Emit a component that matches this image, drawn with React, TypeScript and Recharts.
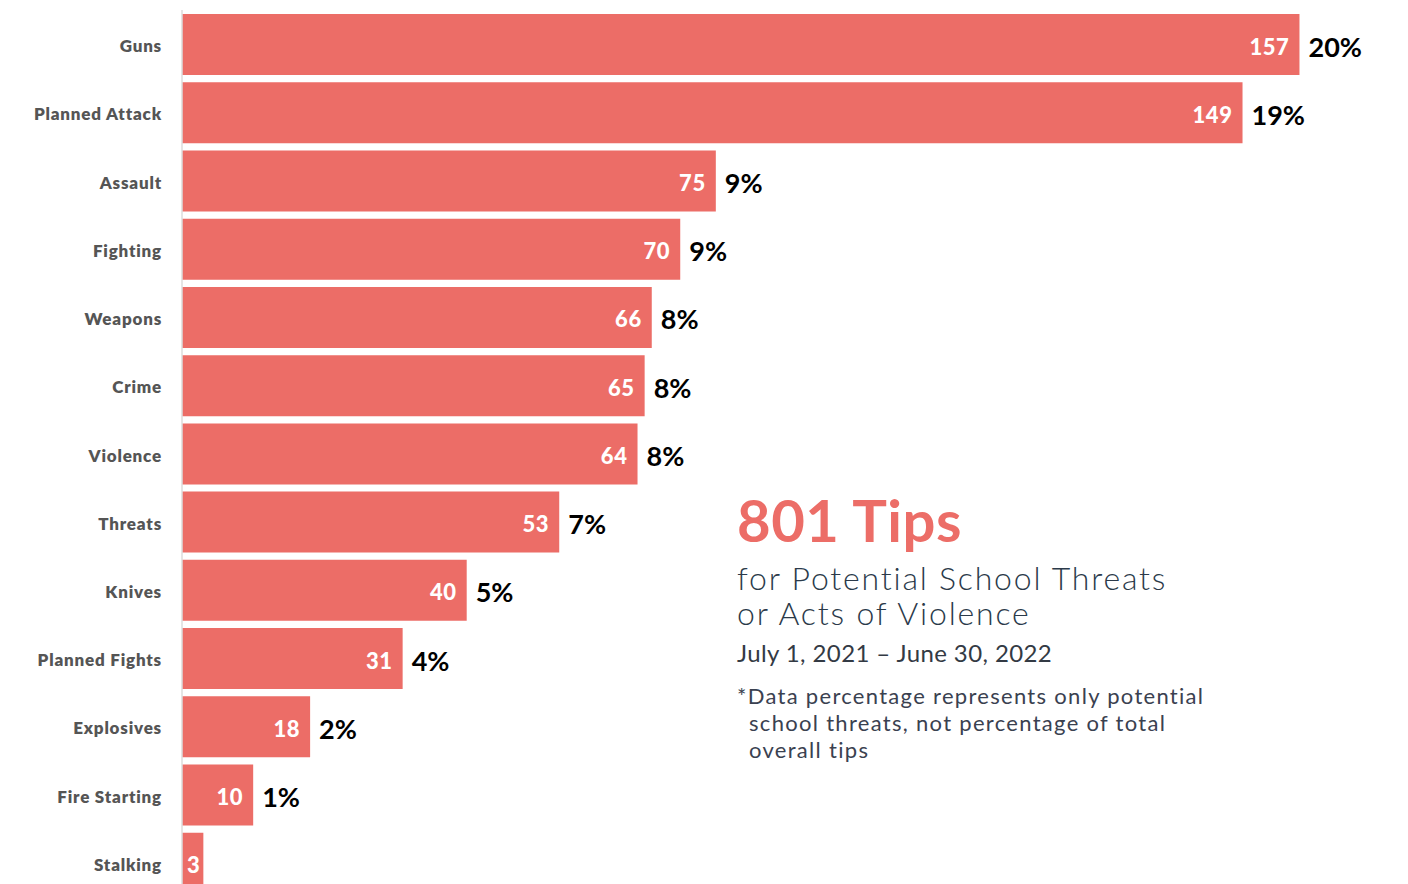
import React from "react";
import { BarChart, Bar, XAxis, YAxis, LabelList } from "recharts";

const categories = [
  "Guns", "Planned Attack", "Assault", "Fighting", "Weapons", "Crime", "Violence",
  "Threats", "Knives", "Planned Fights", "Explosives", "Fire Starting", "Stalking",
];
const counts = [157, 149, 75, 70, 66, 65, 64, 53, 40, 31, 18, 10, 3];
const percentLabels = ["20%", "19%", "9%", "9%", "8%", "8%", "8%", "7%", "5%", "4%", "2%", "1%", ""];

const data = categories.map((name, i) => ({ name, count: counts[i], pct: percentLabels[i] }));

const BAR_COLOR = "#ec6d67";
const FONT = "Lato, 'Noto Sans', sans-serif";

const CategoryTick = (props: any) => {
  const { x, y, payload } = props;
  return (
    <text x={x} y={y} dy={8} textAnchor="end" fill="#555555" fontFamily={FONT} fontWeight={800} fontSize={17} letterSpacing={0.8}>
      {payload.value}
    </text>
  );
};

const ValueLabel = (props: any) => {
  const { x, y, width, height, value } = props;
  const small = width < 40;
  const tx = small ? x + width - 3 : x + width - 10;
  return (
    <text x={tx} y={y + height / 2} dy={10} textAnchor="end" fill="#ffffff" fontFamily={FONT} fontWeight={900} fontSize={22} letterSpacing={0.6}>
      {value}
    </text>
  );
};

const PctLabel = (props: any) => {
  const { x, y, width, height, value } = props;
  if (!value) return null;
  return (
    <text x={x + width + 9} y={y + height / 2} dy={12} textAnchor="start" fill="#000000" fontFamily={FONT} fontWeight={700} fontSize={27}>
      {value}
    </text>
  );
};

export default function App() {
  return (
    <div style={{ position: "absolute", left: 0, top: 0, width: 1408, height: 884, overflow: "hidden", background: "#ffffff" }}>
      <BarChart
        width={1408}
        height={897}
        data={data}
        layout="vertical"
        margin={{ top: 10, right: 16, bottom: 0, left: 0 }}
      >
        <XAxis type="number" domain={[0, 170]} hide height={0} />
        <YAxis
          type="category"
          dataKey="name"
          width={182}
          axisLine={{ stroke: "#dcdcdc", strokeWidth: 1.5 }}
          tickLine={false}
          tickSize={0}
          tickMargin={20}
          tick={<CategoryTick />}
          interval={0}
        />
        <Bar dataKey="count" fill={BAR_COLOR} barSize={61} isAnimationActive={false}>
          <LabelList dataKey="count" content={<ValueLabel />} />
          <LabelList dataKey="pct" content={<PctLabel />} />
        </Bar>
      </BarChart>
      <div style={{ position: "absolute", left: 737, top: 485, fontFamily: FONT, color: BAR_COLOR, fontWeight: 700, fontSize: 58, letterSpacing: 0.5, lineHeight: "70px", whiteSpace: "nowrap" }}>
        801 Tips
      </div>
      <div style={{ position: "absolute", left: 737, top: 560, fontFamily: FONT, color: "#2b3a4a", fontWeight: 300, fontSize: 32, letterSpacing: 1.8, lineHeight: "35px", whiteSpace: "nowrap" }}>
        <div>for Potential School Threats</div>
        <div>or Acts of Violence</div>
      </div>
      <div style={{ position: "absolute", left: 737, top: 637, fontFamily: FONT, color: "#333a44", fontWeight: 400, fontSize: 24, letterSpacing: 0.4, lineHeight: "32px", whiteSpace: "nowrap" }}>
        July 1, 2021 – June 30, 2022
      </div>
      <div style={{ position: "absolute", left: 737, top: 682, fontFamily: FONT, color: "#3a4150", fontWeight: 400, fontSize: 22, letterSpacing: 1.3, lineHeight: "27px", whiteSpace: "nowrap" }}>
        <div>*Data percentage represents only potential</div>
        <div style={{ paddingLeft: 12 }}>school threats, not percentage of total</div>
        <div style={{ paddingLeft: 12 }}>overall tips</div>
      </div>
    </div>
  );
}
